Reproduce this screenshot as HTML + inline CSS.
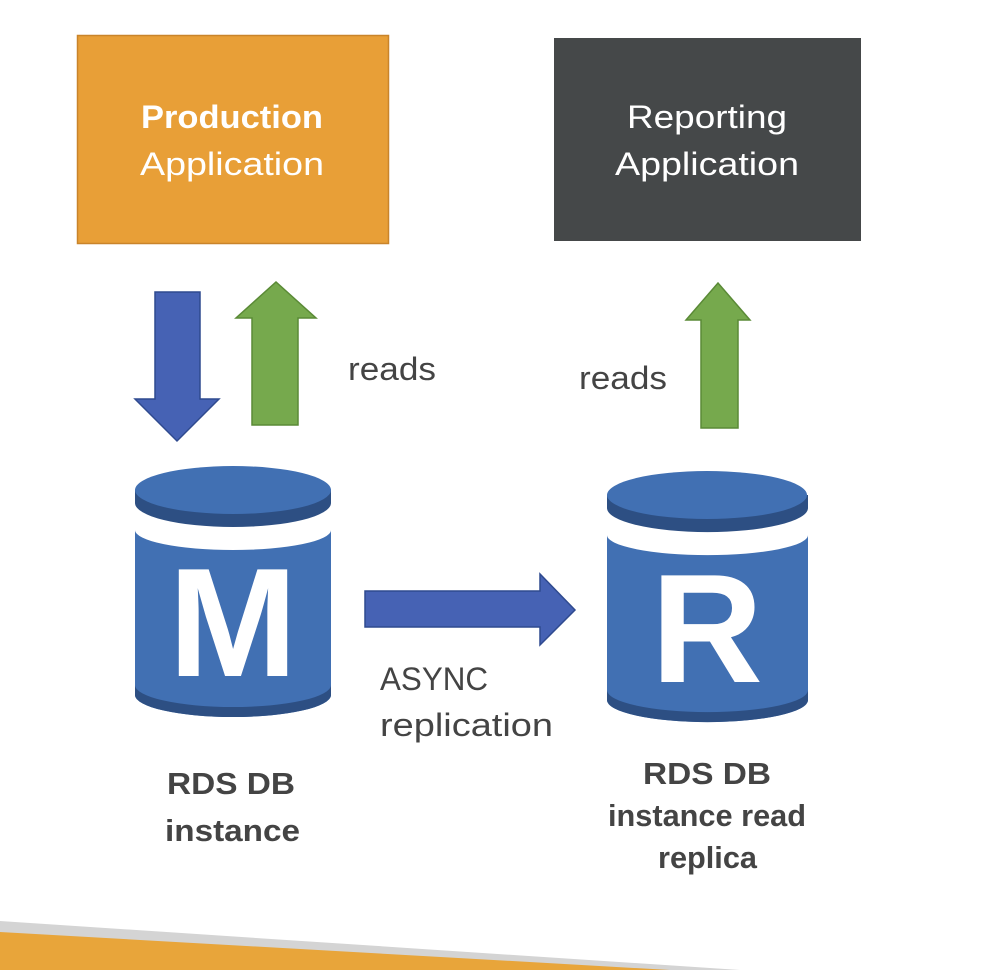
<!DOCTYPE html>
<html><head><meta charset="utf-8"><style>
body{margin:0;background:#fff;}
svg{display:block}
text{font-family:"Liberation Sans",sans-serif;}
</style></head><body>
<svg width="997" height="970" viewBox="0 0 997 970" xmlns="http://www.w3.org/2000/svg">
<polygon points="0,921 740,970 0,970" fill="#d4d4d4"/>
<polygon points="0,932 670,970 0,970" fill="#e8a53a"/>

<rect x="77.5" y="35.5" width="311" height="208" fill="#e89f37" stroke="#c9842a" stroke-width="1.5"/>
<text x="141" y="128" font-size="32" font-weight="bold" fill="#fff" textLength="182" lengthAdjust="spacingAndGlyphs">Production</text>
<text x="140" y="175" font-size="32" fill="#fff" textLength="184" lengthAdjust="spacingAndGlyphs">Application</text>

<rect x="554" y="38" width="307" height="203" fill="#454849"/>
<text x="627" y="128" font-size="32" fill="#fff" textLength="160" lengthAdjust="spacingAndGlyphs">Reporting</text>
<text x="615" y="175" font-size="32" fill="#fff" textLength="184" lengthAdjust="spacingAndGlyphs">Application</text>

<polygon points="155,292 200,292 200,399 219,399 177,441 135,399 155,399" fill="#4662b4" stroke="#2f4a8f" stroke-width="1.5"/>
<polygon points="252,425 298,425 298,318 316,318 276,282 236,318 252,318" fill="#76a94d" stroke="#5a8a36" stroke-width="1.5"/>
<polygon points="701,428 738,428 738,320 750,320 718,283 686,320 701,320" fill="#76a94d" stroke="#5a8a36" stroke-width="1.5"/>
<polygon points="365,591 540,591 540,574 575,610 540,645 540,627 365,627" fill="#4662b4" stroke="#2f4a8f" stroke-width="1.5"/>

<text x="348" y="380" font-size="32" fill="#444" textLength="88" lengthAdjust="spacingAndGlyphs">reads</text>
<text x="579" y="389" font-size="32" fill="#444" textLength="88" lengthAdjust="spacingAndGlyphs">reads</text>
<text x="380" y="690" font-size="32" fill="#444" textLength="108" lengthAdjust="spacingAndGlyphs">ASYNC</text>
<text x="380" y="736" font-size="32" fill="#444" textLength="173" lengthAdjust="spacingAndGlyphs">replication</text>

<g>
<path d="M135,530 L135,695 A98,22 0 0 0 331,695 L331,530 A98,20 0 0 1 135,530 Z" fill="#4170b3"/>
<path d="M135,685 A98,22 0 0 0 331,685 L331,695 A98,22 0 0 1 135,695 Z" fill="#2d4f83"/>
<path d="M135,490 L135,503 A98,24 0 0 0 331,503 L331,490 Z" fill="#2d4f83"/>
<ellipse cx="233" cy="490" rx="98" ry="24" fill="#4170b3"/>
<text x="233" y="676" text-anchor="middle" font-size="155" font-weight="bold" fill="#fff">M</text>
</g>
<g>
<path d="M607,535 L607,700 A100,22 0 0 0 808,700 L808,535 A100,20 0 0 1 607,535 Z" fill="#4170b3"/>
<path d="M607,690 A100,22 0 0 0 808,690 L808,700 A100,22 0 0 1 607,700 Z" fill="#2d4f83"/>
<path d="M607,495 L607,508 A100,24 0 0 0 808,508 L808,495 Z" fill="#2d4f83"/>
<ellipse cx="707" cy="495" rx="100" ry="24" fill="#4170b3"/>
<text x="707" y="682" text-anchor="middle" font-size="155" font-weight="bold" fill="#fff">R</text>
</g>

<text x="167" y="794" font-size="31" font-weight="bold" fill="#444" textLength="128" lengthAdjust="spacingAndGlyphs">RDS DB</text>
<text x="165" y="841" font-size="31" font-weight="bold" fill="#444" textLength="135" lengthAdjust="spacingAndGlyphs">instance</text>
<text x="643" y="784" font-size="31" font-weight="bold" fill="#444" textLength="128" lengthAdjust="spacingAndGlyphs">RDS DB</text>
<text x="608" y="826" font-size="31" font-weight="bold" fill="#444" textLength="198" lengthAdjust="spacingAndGlyphs">instance read</text>
<text x="658" y="868" font-size="31" font-weight="bold" fill="#444" textLength="99" lengthAdjust="spacingAndGlyphs">replica</text>
</svg>
</body></html>
